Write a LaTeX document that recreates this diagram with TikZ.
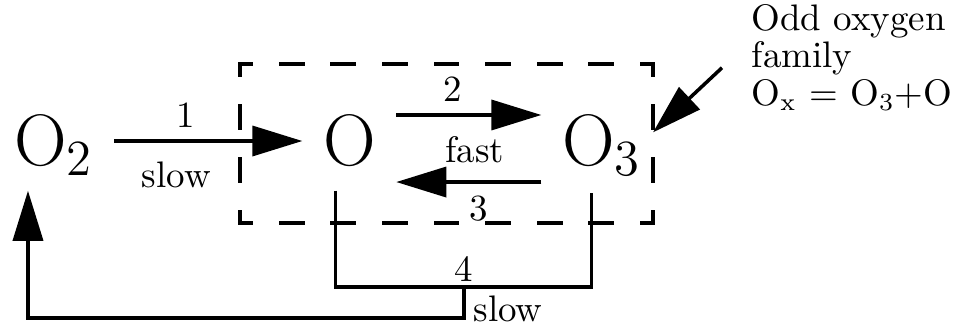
\documentclass[tikz,border=0pt]{standalone}
\usepackage{tikz}
\usetikzlibrary{arrows.meta,positioning,calc}

\begin{document}
\begin{tikzpicture}[
    x=0.01cm, y=-0.01cm,
    species/.style={
        inner sep=0.2cm,
        text height=0.48cm,
        text depth=0cm,
        font=\fontsize{20}{24}\selectfont
    },
    lbl/.style={
        font=\fontsize{10.5}{12}\selectfont
    },
    note/.style={
        align=left,
        inner sep=0pt,
        font=\fontsize{10.5}{9.5}\selectfont
    },
    arrow/.style={-{Triangle[length=0.5cm,width=0.3cm]}, line width=1pt},
    loopline/.style={line width=1pt},
    oxdashh/.style={line width=1.1pt, line cap=rect,
        dash pattern=on 0.22cm off 0.296cm, dash phase=0.11cm},
    oxdashv/.style={line width=1.1pt, line cap=rect,
        dash pattern=on 0.22cm off 0.31cm, dash phase=0.11cm}
]
\useasboundingbox (0,0) rectangle (955,327);

\node[species] (O2) at (54,141) {$\mathrm{O}_2$};
\node[species, right=1.88cm of O2] (O) {$\mathrm{O}$};
\node[species, right=1.45cm of O] (O3) {$\mathrm{O}_3$};

% odd oxygen family box
\coordinate (boxnw) at (240,64);
\coordinate (boxne) at (653,64);
\coordinate (boxse) at (653,223);
\coordinate (boxsw) at (240,223);
\draw[oxdashh] (boxnw) -- (boxne);
\draw[oxdashh] (boxsw) -- (boxse);
\draw[oxdashv] (boxnw) -- (boxsw);
\draw[oxdashv] (boxne) -- (boxse);

\node[note, anchor=north west] (oddox) at (751,4)
{Odd oxygen\\family\\O$_{\mathrm{x}}$ = O$_3$+O};

\draw[arrow] (O2) -- (O)
    node[lbl, above, pos=0.38] {1}
    node[lbl, below, pos=0.33, yshift=-0.07cm] {slow};
\draw[arrow] ([yshift=0.26cm]O.east) -- ([yshift=0.26cm]O3.west)
    node[lbl, above, pos=0.39] {2}
    node[lbl, below, pos=0.54, yshift=-0.08cm] {fast};
\draw[arrow] ([yshift=-0.41cm]O3.west) -- ([yshift=-0.41cm]O.east)
    node[lbl, below, pos=0.43] {3};

\draw[arrow] ([xshift=-0.29cm,yshift=-0.1cm]oddox.west) -- ($(boxne)!0.43!(boxse)$);

% reaction 4
\coordinate (j4) at (464,287);
\draw[loopline] ([xshift=-0.14cm,yshift=-0.05cm]O.south) |- (j4)
    -| ([xshift=-0.1cm,yshift=-0.07cm]O3.south);
\node[lbl, above, inner sep=0.05cm] at (j4) {4};
\node[lbl, anchor=base west, inner sep=0pt] at ([xshift=0.09cm,yshift=-0.34cm]j4) {slow};
\draw[arrow] (j4) -- ++(0,31) -| ([xshift=-0.26cm,yshift=-0.05cm]O2.south);

\end{tikzpicture}
\end{document}
